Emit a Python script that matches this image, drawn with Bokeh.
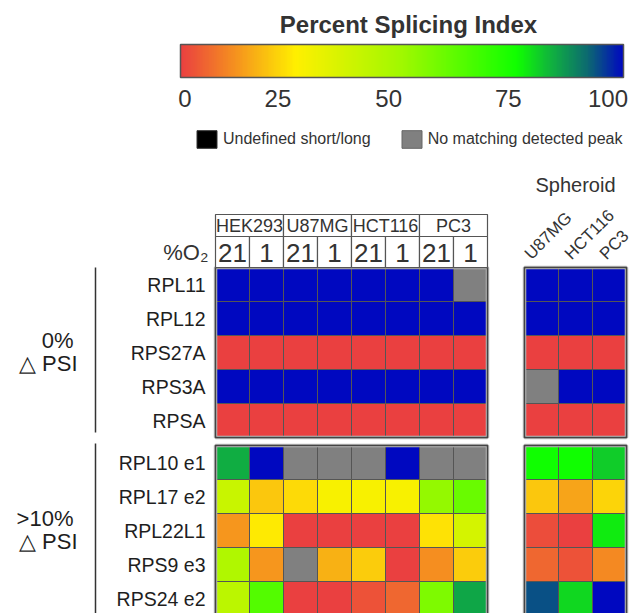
import math
import numpy as np
from bokeh.plotting import figure
from bokeh.models import (ColumnDataSource, LinearColorMapper, ColorBar, FixedTicker,
                          Range1d, Legend, LegendItem)
from bokeh.core.properties import value
from bokeh.embed import file_html
from bokeh.resources import INLINE

NA = float("nan")

# ---------------- data ----------------
cell_lines = ["HEK293", "U87MG", "HCT116", "PC3"]
o2_levels = ["21", "1"]
spheroid_lines = ["U87MG", "HCT116", "PC3"]
group_0_label = ["0%", "\u25b3 PSI"]
group_10_label = [">10%", "\u25b3 PSI"]
genes_0 = ["RPL11", "RPL12", "RPS27A", "RPS3A", "RPSA"]
genes_10 = ["RPL10 e1", "RPL17 e2", "RPL22L1", "RPS9 e3", "RPS24 e2"]

# monolayer PSI: HEK293 21/1, U87MG 21/1, HCT116 21/1, PC3 21/1 (NaN = no matching peak)
psi_RPL11 = [100, 100, 100, 100, 100, 100, 100, NA]
psi_RPL12 = [100, 100, 100, 100, 100, 100, 100, 100]
psi_RPS27A = [0, 0, 0, 0, 0, 0, 0, 0]
psi_RPS3A = [100, 100, 100, 100, 100, 100, 100, 100]
psi_RPSA = [0, 0, 0, 0, 0, 0, 0, 0]
psi_RPL10_e1 = [84, 100, NA, NA, NA, 100, NA, NA]
psi_RPL17_e2 = [40, 20, 23, 28, 28, 28, 52, 60]
psi_RPL22L1 = [13, 25, 0, 0, 0, 0, 24, 37]
psi_RPS9_e3 = [46, 13, NA, 17, 21, 0, 12, 21]
psi_RPS24_e2 = [43, 64, 0, 0, 3, 6, 56, 85]

# spheroid PSI: U87MG, HCT116, PC3
sph_RPL11 = [100, 100, 100]
sph_RPL12 = [100, 100, 100]
sph_RPS27A = [0, 0, 0]
sph_RPS3A = [NA, 100, 100]
sph_RPSA = [0, 0, 0]
sph_RPL10_e1 = [76, 76, 81]
sph_RPL17_e2 = [20, 15, 22]
sph_RPL22L1 = [2, 0, 78]
sph_RPS9_e3 = [6, 3, 11]
sph_RPS24_e2 = [94, 80, 100]

cb_labels = ["0", "25", "50", "75", "100"]

mono_rows_0 = [psi_RPL11, psi_RPL12, psi_RPS27A, psi_RPS3A, psi_RPSA]
mono_rows_10 = [psi_RPL10_e1, psi_RPL17_e2, psi_RPL22L1, psi_RPS9_e3, psi_RPS24_e2]
sph_rows_0 = [sph_RPL11, sph_RPL12, sph_RPS27A, sph_RPS3A, sph_RPSA]
sph_rows_10 = [sph_RPL10_e1, sph_RPL17_e2, sph_RPL22L1, sph_RPS9_e3, sph_RPS24_e2]

# ---------------- style / layout ----------------
anchors = [(0.00, "#ea4040"), (0.12, "#f5901f"), (0.26, "#fff000"), (0.50, "#a0f800"),
           (0.76, "#10ff00"), (0.84, "#10b040"), (0.92, "#0c6a70"), (1.00, "#0008c0")]


def hex2rgb(h):
    return [int(h[i:i + 2], 16) for i in (1, 3, 5)]


palette = []
for k in range(256):
    t = k / 255
    for (p0, c0), (p1, c1) in zip(anchors[:-1], anchors[1:]):
        if p0 <= t <= p1:
            f = (t - p0) / (p1 - p0)
            a, b = hex2rgb(c0), hex2rgb(c1)
            palette.append("#%02x%02x%02x" % tuple(round(a[i] + (b[i] - a[i]) * f) for i in range(3)))
            break

mapper = LinearColorMapper(palette=palette, low=0, high=100, nan_color="#808080")

FIG_W, FIG_H = 636, 613
CELL = 34.0
GRID_LEFT_PX, GRID_TOP_PX = 215, 267


def ux(px):
    return (px - GRID_LEFT_PX) / CELL


def uy(py):
    return (py - GRID_TOP_PX) / CELL


SPH_OFF = ux(524)
SEC2_OFF = uy(445)
FONT = "Liberation Sans"
TXT = "#1e1e1e"

p = figure(width=FIG_W, height=FIG_H, x_range=Range1d(ux(0), ux(FIG_W)),
           y_range=Range1d(uy(FIG_H), uy(0)), output_backend="svg", toolbar_location=None,
           min_border=0, x_axis_location=None, y_axis_location=None)
p.grid.visible = False
p.outline_line_color = None
p.background_fill_color = "white"

# ---------------- heat cells ----------------
xs, ys, vs = [], [], []
for off, mono, sph in [(0.0, mono_rows_0, sph_rows_0), (SEC2_OFF, mono_rows_10, sph_rows_10)]:
    for r, row in enumerate(mono):
        for c, v in enumerate(row):
            xs.append(c + 0.5); ys.append(off + r + 0.5); vs.append(v)
    for r, row in enumerate(sph):
        for c, v in enumerate(row):
            xs.append(SPH_OFF + c + 0.5); ys.append(off + r + 0.5); vs.append(v)
src = ColumnDataSource(dict(x=xs, y=ys, v=np.array(vs, dtype=float)))
p.rect("x", "y", width=1, height=1, source=src,
       fill_color={"field": "v", "transform": mapper}, line_color="#555555", line_width=1)

# panel frames
n_mono = len(cell_lines) * len(o2_levels)
for off, n in [(0.0, len(genes_0)), (SEC2_OFF, len(genes_10))]:
    p.quad(left=[0, SPH_OFF], right=[n_mono, SPH_OFF + len(spheroid_lines)],
           top=[off, off], bottom=[off + n, off + n], fill_color=None,
           line_color="#bdbdbd", line_width=3.5)
    p.quad(left=[0, SPH_OFF], right=[n_mono, SPH_OFF + len(spheroid_lines)],
           top=[off, off], bottom=[off + n, off + n], fill_color=None,
           line_color="#444444", line_width=1.5)

# ---------------- header table ----------------
h_top, h_mid = uy(214), uy(236)
p.quad(left=[2 * i for i in range(len(cell_lines))],
       right=[2 * i + 2 for i in range(len(cell_lines))],
       top=[h_top] * len(cell_lines), bottom=[h_mid] * len(cell_lines),
       fill_color="white", line_color="#555555", line_width=1.2)
p.text(x=[2 * i + 1 for i in range(len(cell_lines))], y=[(h_top + h_mid) / 2] * len(cell_lines),
       text=cell_lines, text_align="center", text_baseline="middle",
       text_font=value(FONT), text_font_size="18px", text_color="#333333")
o2_x = [i + 0.5 for i in range(n_mono)]
o2_t = [o2_levels[i % 2] for i in range(n_mono)]
p.quad(left=[i for i in range(n_mono)], right=[i + 1 for i in range(n_mono)],
       top=[h_mid] * n_mono, bottom=[0] * n_mono,
       fill_color="white", line_color="#555555", line_width=1.2)
p.text(x=o2_x, y=[h_mid / 2 + 0.03] * n_mono, text=o2_t, text_align="center",
       text_baseline="middle", text_font=value(FONT), text_font_size="26px", text_color="#333333")
p.text(x=[ux(208)], y=[uy(252)], text=["%O\u2082"], text_align="right", text_baseline="middle",
       text_font=value(FONT), text_font_size="22px", text_color="#333333")

# spheroid header
p.text(x=[SPH_OFF + 1.5], y=[uy(184)], text=["Spheroid"], text_align="center",
       text_baseline="middle", text_font=value(FONT), text_font_size="20px", text_color="#333333")
sph_label_shift = [-14, -8, -7]
p.text(x=[SPH_OFF + j + 0.5 + sph_label_shift[j] / CELL for j in range(len(spheroid_lines))],
       y=[uy(256)] * len(spheroid_lines), text=spheroid_lines, angle=math.pi / 4,
       text_align="left", text_baseline="middle", text_font=value(FONT),
       text_font_size="17px", text_color="#333333")

# ---------------- row labels ----------------
for off, genes in [(0.0, genes_0), (SEC2_OFF, genes_10)]:
    p.text(x=[ux(205)] * len(genes), y=[off + r + 0.5 for r in range(len(genes))], text=genes,
           text_align="right", text_baseline="middle", text_font=value(FONT),
           text_font_size="19.5px", text_color=TXT)

# group brackets
p.segment(x0=[ux(95), ux(95)], x1=[ux(95), ux(95)], y0=[0, SEC2_OFF - 0.06],
          y1=[len(genes_0) - 0.15, uy(FIG_H)], line_color="#333333", line_width=1.5)
for lbl, ycen in [(group_0_label, len(genes_0) / 2), (group_10_label, SEC2_OFF + len(genes_10) / 2)]:
    p.text(x=[ux(73), ux(77)], y=[ycen - 0.36, ycen + 0.33], text=lbl, text_align="right",
           text_baseline="middle", text_font=value(FONT), text_font_size="22px", text_color=TXT)

# ---------------- color bar ----------------
p.text(x=[ux(408)], y=[uy(24)], text=["Percent Splicing Index"], text_align="center",
       text_baseline="middle", text_font=value(FONT), text_font_size="24px",
       text_font_style="bold", text_color="#333333")
cb_pos = [1, 22, 47, 74, 96.5]
cb = ColorBar(color_mapper=mapper, orientation="horizontal", location=(180, FIG_H - 109),
              width=443, height=33, padding=0, ticker=FixedTicker(ticks=cb_pos),
              major_label_overrides={t: l for t, l in zip(cb_pos, cb_labels)},
              major_label_text_font=FONT, major_label_text_font_size="24px",
              major_label_text_color="#333333", major_tick_line_color=None,
              minor_tick_line_color=None, bar_line_color="#555555", bar_line_width=1.5,
              border_line_color=None, background_fill_alpha=0, label_standoff=12)
p.add_layout(cb)

# ---------------- legend ----------------
r_undef = p.rect(x=[ux(-200)], y=[uy(-200)], width=1, height=1, fill_color="black",
                 line_color="#333333")
r_nopeak = p.rect(x=[ux(-200)], y=[uy(-200)], width=1, height=1, fill_color="#808080",
                  line_color="#666666")
leg = Legend(items=[LegendItem(label="Undefined short/long", renderers=[r_undef]),
                    LegendItem(label="No matching detected peak", renderers=[r_nopeak])],
             orientation="horizontal", location=(194, FIG_H - 150), glyph_width=25,
             glyph_height=22, label_height=22, label_text_font=FONT, label_text_font_size="16px",
             label_text_color="#333333", label_standoff=4, spacing=28, padding=0, margin=0,
             border_line_color=None, background_fill_alpha=0)
p.add_layout(leg)

open("out.html", "w").write(file_html(p, INLINE))
